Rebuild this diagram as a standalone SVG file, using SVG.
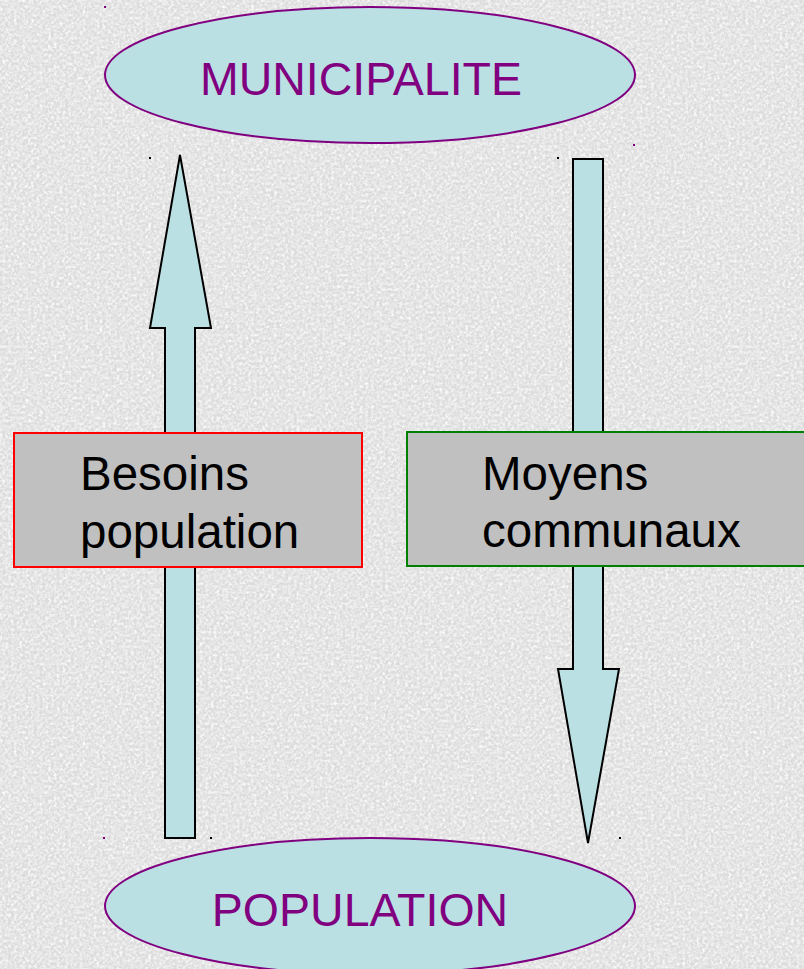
<svg xmlns="http://www.w3.org/2000/svg" width="804" height="969" viewBox="0 0 804 969">
<defs>
<filter id="granite" x="0" y="0" width="100%" height="100%">
<feTurbulence type="fractalNoise" baseFrequency="0.35" numOctaves="3" seed="7" result="n"/>
<feColorMatrix in="n" type="matrix" values="0 0 0 0 1  0 0 0 0 1  0 0 0 0 1  1.2 1.2 1.2 0 -1.5" result="a"/>
</filter>
<filter id="granite2" x="0" y="0" width="100%" height="100%">
<feTurbulence type="fractalNoise" baseFrequency="0.6" numOctaves="2" seed="3" result="n"/>
<feColorMatrix in="n" type="matrix" values="0 0 0 0 0.6  0 0 0 0 0.6  0 0 0 0 0.6  -1.2 -1.2 -1.2 0 1.45" result="a"/>
</filter>
<style>
.arrow{fill:#bbe0e3;stroke:#000;stroke-width:2;stroke-linejoin:miter}
.oval{fill:#bbe0e3;stroke:#800080;stroke-width:2}
.otext{font-family:"Liberation Sans",Arial,sans-serif;font-size:46.5px;fill:#800080;text-anchor:middle}
.box{fill:#c0c0c0;stroke-width:2}
.btext{font-family:"Liberation Sans",Arial,sans-serif;font-size:47.5px;fill:#000}
.dot{fill:#000}
</style>
</defs>
<rect width="804" height="969" fill="#dcdcdc"/>
<rect width="804" height="969" filter="url(#granite2)" opacity="0.7"/>
<rect width="804" height="969" filter="url(#granite)" opacity="0.9"/>
<g id="connectors">
<polygon id="arrow-up" class="arrow" points="180,155 211,328 195,328 195,838 165,838 165,328 150,328"/>
<polygon id="arrow-down" class="arrow" points="573,159 603,159 603,669 619,669 588,843 558,669 573,669"/>
</g>
<g id="node-besoins">
<rect class="box" x="14" y="433" width="348" height="134" stroke="#ff0000"/>
<text class="btext" x="80" y="490">Besoins</text>
<text class="btext" x="80" y="548">population</text>
</g>
<g id="node-moyens">
<rect class="box" x="407" y="432" width="400" height="134" stroke="#008000"/>
<text class="btext" x="482" y="490">Moyens</text>
<text class="btext" x="482" y="547">communaux</text>
</g>
<g id="node-municipalite">
<ellipse class="oval" cx="370" cy="75" rx="265" ry="68"/>
<text class="otext" x="361" y="95">MUNICIPALITE</text>
</g>
<g id="node-population">
<ellipse class="oval" cx="370" cy="906" rx="265" ry="68"/>
<text class="otext" x="360" y="926">POPULATION</text>
</g>
<g id="handles">
<rect x="104" y="6" width="2" height="2" fill="#800080"/>
<rect x="633" y="144" width="2" height="2" fill="#800080"/>
<rect class="dot" x="149" y="157" width="2" height="2"/>
<rect class="dot" x="557" y="157" width="2" height="2"/>
<rect x="103" y="837" width="2" height="2" fill="#800080"/>
<rect class="dot" x="210" y="837" width="2" height="2"/>
<rect class="dot" x="619" y="837" width="2" height="2"/>
</g>
</svg>
